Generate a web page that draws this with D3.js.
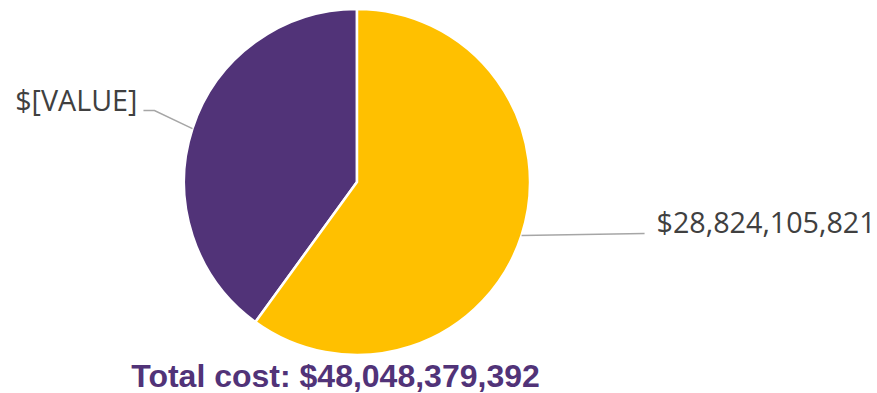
<!DOCTYPE html>
<html>
<head>
<meta charset="utf-8">
<script src="https://cdn.jsdelivr.net/npm/d3@7"></script>
<style>
  html, body { margin: 0; padding: 0; background: #fff; }
  svg { display: block; }
</style>
</head>
<body>
<svg id="chart" width="877" height="393"></svg>
<script>
// Cost split between the two groups
const categories = ["Other", "Main"];
const values = [19224273571, 28824105821];
const sliceLabels = ["$[VALUE]", "$28,824,105,821"];
const colors = ["#513378", "#FFC000"];
const totalLabel = "Total cost: $48,048,379,392";

const svg = d3.select("#chart");
const cx = 357, cy = 182, r = 173;

const data = categories.map((c, i) => ({ category: c, value: values[i], label: sliceLabels[i], color: colors[i] }));

// Main slice starts at 12 o'clock and runs clockwise
const share0 = values[0] / d3.sum(values);
const pie = d3.pie().sort(null).value(d => d.value)
  .startAngle(-2 * Math.PI * share0)
  .endAngle(2 * Math.PI - 2 * Math.PI * share0);
const arc = d3.arc().innerRadius(0).outerRadius(r);

const g = svg.append("g").attr("transform", `translate(${cx},${cy})`);
const arcs = pie(data);

g.selectAll("path.slice").data(arcs).join("path")
  .attr("class", "slice")
  .attr("d", arc)
  .attr("fill", d => d.data.color)
  .attr("stroke", "#fff")
  .attr("stroke-width", 2.5)
  .attr("stroke-linejoin", "round");

// Leader lines from the slice edge to each label
function edgePoint(d) {
  const a = (d.startAngle + d.endAngle) / 2;
  return [r * Math.sin(a), -r * Math.cos(a)];
}

arcs.forEach(d => {
  const [x0, y0] = edgePoint(d);
  const right = x0 > 0;
  let pts;
  if (right) {
    pts = [[x0, y0], [x0 + 123, y0 - 2]];
  } else {
    pts = [[x0, y0], [x0 - 38, y0 - 18], [x0 - 49, y0 - 18]];
  }
  g.append("path")
    .attr("d", d3.line()(pts))
    .attr("fill", "none")
    .attr("stroke", "#A6A6A6")
    .attr("stroke-width", 1.5);
  const end = pts[pts.length - 1];
  g.append("text")
    .attr("x", right ? end[0] + 12 : end[0] - 6)
    .attr("y", end[1])
    .attr("text-anchor", right ? "start" : "end")
    .attr("font-family", "'Open Sans', sans-serif")
    .attr("font-size", 28.7)
    .attr("fill", "#404040")
    .text(d.data.label);
});

svg.append("text")
  .attr("x", 335.5)
  .attr("y", 387)
  .attr("text-anchor", "middle")
  .attr("font-family", "'Liberation Sans', Arial, sans-serif")
  .attr("font-weight", "bold")
  .attr("font-size", 32)
  .attr("fill", "#513378")
  .text(totalLabel);
</script>
</body>
</html>
